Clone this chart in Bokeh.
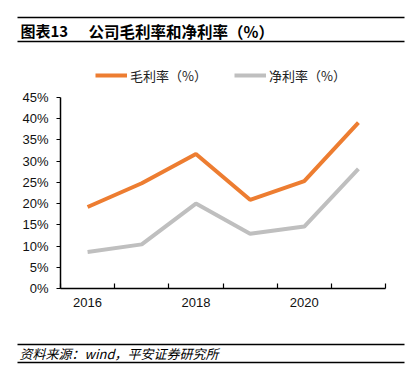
from bokeh.plotting import figure
from bokeh.layouts import column
from bokeh.core.properties import value
from bokeh.models import (FixedTicker, Range1d, Legend, LegendItem, CustomJSTickFormatter)
from bokeh.embed import file_html
from bokeh.resources import INLINE

years = [2016, 2017, 2018, 2019, 2020, 2021]
gross_margin = [19.2, 24.8, 31.7, 20.9, 25.3, 39.1]
net_margin = [8.6, 10.4, 20.0, 12.9, 14.6, 28.2]
x_tick_labels = [2016, 2018, 2020]
y_ticks = [0, 5, 10, 15, 20, 25, 30, 35, 40, 45]
series_names = ["毛利率（%）", "净利率（%）"]
title_prefix = "图表13"
title_text = "公司毛利率和净利率（%）"
source_text = "资料来源：wind，平安证券研究所"

CJK = "Noto Sans CJK SC"
W = 416
TOP_H, MAIN_H, FOOT_H = 60, 275, 44
FL, FR, FT, FB = 60, 385, 65, 288      # main frame edges in page coords
Y45 = 97                               # page y of the 45% gridline


def blank(height, y0):
    f = figure(width=W, height=height, output_backend="svg", toolbar_location=None,
               x_range=Range1d(0, W), y_range=Range1d(y0 + height, y0),
               x_axis_type=None, y_axis_type=None, frame_align=False,
               min_border=0, min_border_left=0, min_border_right=0,
               min_border_top=0, min_border_bottom=0)
    f.outline_line_color = None
    f.background_fill_color = "white"
    return f


# ---- title strip ----
top = blank(TOP_H, 0)
top.segment(x0=[17, 17], y0=[17, 41], x1=[404, 404], y1=[17, 41],
            line_color="black", line_width=1.5)
top.text(x=[20], y=[30], text=[title_prefix], text_font=value(CJK), text_font_size="15px",
         text_font_style="bold", text_baseline="middle", text_color="black")
top.text(x=[88], y=[30], text=[title_text], text_font=value(CJK), text_font_size="15.5px",
         text_font_style="bold", text_baseline="middle", text_color="black")

# ---- main chart ----
y_end = 45 * (FB - FT) / (FB - Y45)
p = figure(width=W, height=MAIN_H, output_backend="svg", toolbar_location=None,
           x_range=Range1d(2015.5, 2021.5), y_range=Range1d(0, y_end), frame_align=False,
           min_border_left=FL, min_border_right=W - FR,
           min_border_top=FT - TOP_H, min_border_bottom=TOP_H + MAIN_H - FB)
p.outline_line_color = None
p.xgrid.grid_line_color = None
p.ygrid.grid_line_color = None

p.xaxis.ticker = FixedTicker(ticks=x_tick_labels,
                             minor_ticks=[y + 0.5 for y in range(2015, 2022)])
p.xaxis.major_tick_in = 0
p.xaxis.major_tick_out = 0
p.xaxis.minor_tick_in = 5
p.xaxis.minor_tick_out = 0
p.xaxis.minor_tick_line_color = "black"
p.xaxis.minor_tick_line_width = 1.2
p.xaxis.major_label_standoff = 9
p.yaxis.ticker = FixedTicker(ticks=y_ticks, minor_ticks=[])
p.yaxis.formatter = CustomJSTickFormatter(code="return tick + '%';")
p.yaxis.bounds = (0, 45)
p.yaxis.major_tick_in = 0
p.yaxis.major_tick_out = 4
p.yaxis.minor_tick_out = 0
p.yaxis.major_label_standoff = 8
for ax in (p.xaxis, p.yaxis):
    ax.major_label_text_font = "Liberation Sans"
    ax.major_label_text_font_size = "13px"
    ax.major_label_text_color = "#111111"
    ax.axis_line_width = 1.5
    ax.axis_line_color = "black"
    ax.major_tick_line_color = "black"

r1 = p.line(years, gross_margin, line_color="#ED7D31", line_width=4)
r2 = p.line(years, net_margin, line_color="#BFBFBF", line_width=4)

legend = Legend(items=[LegendItem(label=series_names[0], renderers=[r1]),
                       LegendItem(label=series_names[1], renderers=[r2])],
                orientation="horizontal", location=(35, FB - 76.5 - 8),
                glyph_width=32, glyph_height=16, label_height=16,
                label_standoff=3, spacing=27, padding=0, margin=0,
                label_text_font=CJK, label_text_font_size="13px",
                label_text_color="#222222",
                background_fill_alpha=0, border_line_color=None)
p.add_layout(legend, "center")

# ---- source strip ----
foot = blank(FOOT_H, TOP_H + MAIN_H)
foot.segment(x0=[17, 17], y0=[344, 362], x1=[404, 404], y1=[344, 362],
             line_color="black", line_width=1.5)
foot.text(x=[19], y=[353], text=[source_text], text_font=value(CJK), text_font_size="13px",
          text_font_style="italic", text_baseline="middle", text_color="black")

layout = column(top, p, foot, spacing=0)
open("out.html", "w").write(file_html(layout, INLINE))
